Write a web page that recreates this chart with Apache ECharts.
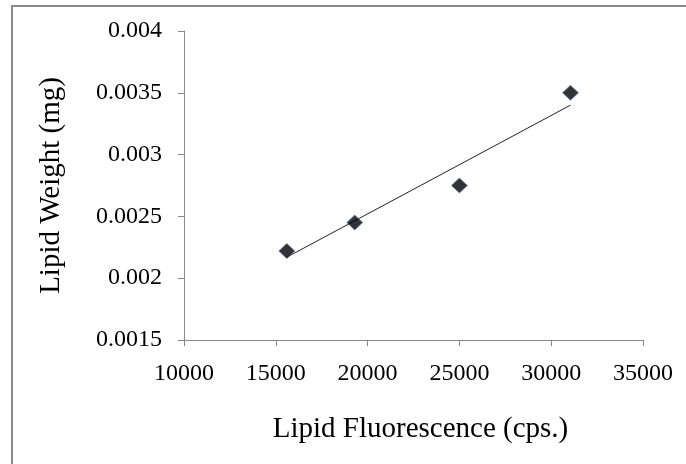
<!DOCTYPE html>
<html>
<head>
<meta charset="utf-8">
<script src="https://cdn.jsdelivr.net/npm/echarts@6/dist/echarts.min.js"></script>
<style>
html,body{margin:0;padding:0;background:#fff;}
#chart{width:686px;height:464px;}
</style>
</head>
<body>
<div id="chart"></div>
<script>
// Data
const fluorescence = [15600, 19300, 25000, 31050];
const lipidWeight = [0.00222, 0.00245, 0.00275, 0.0035];
// Trendline endpoints
const trendX = [15600, 31050];
const trendY = [0.00217, 0.0034];
// Axis ticks
const xTicks = [10000, 15000, 20000, 25000, 30000, 35000];
const yTickLabels = ['0.0015', '0.002', '0.0025', '0.003', '0.0035', '0.004'];
const xTitle = 'Lipid Fluorescence (cps.)';
const yTitle = 'Lipid Weight (mg)';

const FONT = 'Liberation Serif';
const chart = echarts.init(document.getElementById('chart'), null, {renderer: 'canvas'});

const points = fluorescence.map((x, i) => [x, lipidWeight[i]]);
const trend = trendX.map((x, i) => [x, trendY[i]]);

chart.setOption({
  animation: false,
  backgroundColor: '#ffffff',
  graphic: [{
    type: 'rect',
    shape: {x: 12, y: 6, width: 700, height: 500},
    style: {fill: 'none', stroke: '#8a8a8a', lineWidth: 2},
    silent: true
  }],
  grid: {left: 184, right: 43, top: 31, bottom: 124},
  xAxis: {
    type: 'value',
    min: xTicks[0],
    max: xTicks[xTicks.length - 1],
    interval: 5000,
    splitLine: {show: false},
    axisLine: {show: true, lineStyle: {color: '#888888', width: 1}},
    axisTick: {show: true, length: 6, lineStyle: {color: '#888888'}},
    axisLabel: {
      margin: 22,
      fontFamily: FONT, fontSize: 24, color: '#000',
      formatter: v => String(Math.round(v))
    },
    name: xTitle,
    nameLocation: 'middle',
    nameGap: 75,
    nameTextStyle: {fontFamily: FONT, fontSize: 29, color: '#000', lineHeight: 29, padding: [0, 0, 0, 14]}
  },
  yAxis: {
    type: 'value',
    min: 0.0015,
    max: 0.004,
    interval: 0.0005,
    splitLine: {show: false},
    axisLine: {show: true, lineStyle: {color: '#888888', width: 1}},
    axisTick: {show: true, length: 6, lineStyle: {color: '#888888'}},
    axisLabel: {
      margin: 22,
      fontFamily: FONT, fontSize: 24, color: '#000',
      formatter: v => {
        const idx = Math.round((v - 0.0015) / 0.0005);
        return yTickLabels[idx] !== undefined ? yTickLabels[idx] : String(v);
      }
    },
    name: yTitle,
    nameLocation: 'middle',
    nameGap: 118,
    nameTextStyle: {fontFamily: FONT, fontSize: 29, color: '#000', lineHeight: 29}
  },
  series: [
    {
      type: 'line',
      data: trend,
      symbol: 'none',
      lineStyle: {color: '#222222', width: 1},
      z: 2,
      silent: true
    },
    {
      type: 'scatter',
      data: points,
      symbol: 'diamond',
      symbolSize: [16, 15],
      itemStyle: {color: '#000000', borderColor: 'rgba(79,129,189,0.55)', borderWidth: 1},
      z: 3
    }
  ]
});
</script>
</body>
</html>
